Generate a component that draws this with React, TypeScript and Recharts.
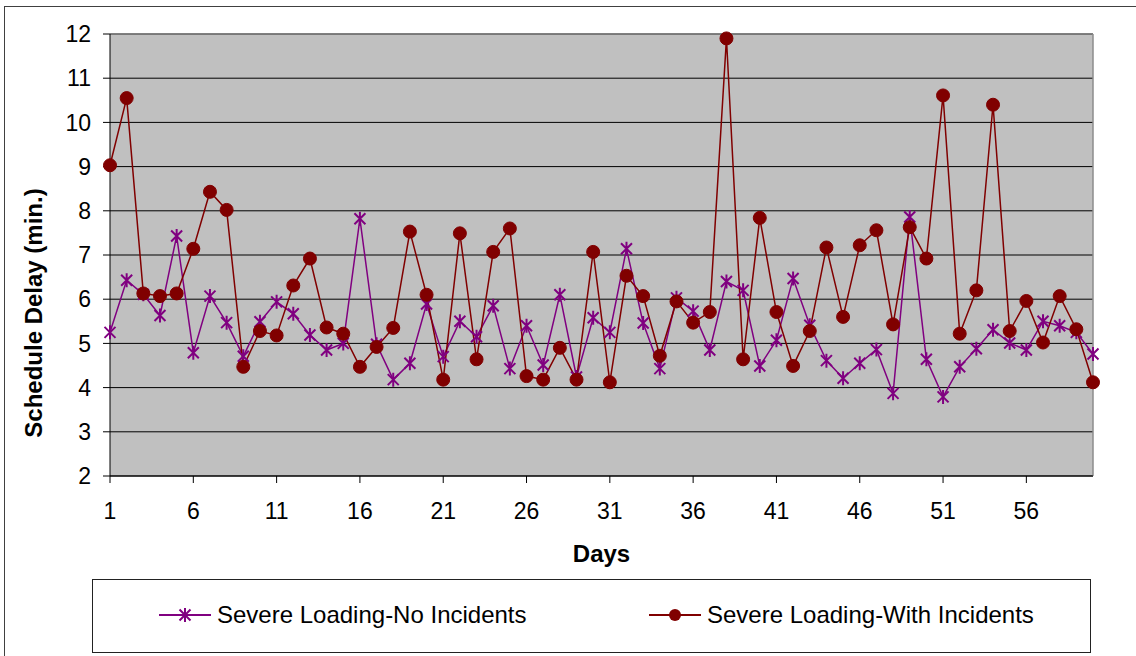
import { CartesianGrid, Line, LineChart, ReferenceLine, XAxis, YAxis } from "recharts";

// schedule delay in minutes per day, severe loading scenario
const noIncidents = [
  5.25, 6.43, 6.11, 5.63, 7.43, 4.79, 6.07, 5.47, 4.71, 5.49,
  5.94, 5.67, 5.19, 4.85, 5.0, 7.82, 4.98, 4.18, 4.55, 5.89,
  4.7, 5.5, 5.15, 5.85, 4.43, 5.4, 4.51, 6.1, 4.24, 5.58,
  5.25, 7.14, 5.46, 4.43, 6.03, 5.73, 4.85, 6.4, 6.2, 4.49,
  5.07, 6.47, 5.41, 4.61, 4.21, 4.55, 4.86, 3.87, 7.86, 4.64,
  3.79, 4.47, 4.88, 5.31, 5.01, 4.85, 5.5, 5.4, 5.25, 4.76,
];

const withIncidents = [
  9.03, 10.55, 6.13, 6.07, 6.13, 7.14, 8.43, 8.02, 4.47, 5.28,
  5.18, 6.31, 6.92, 5.36, 5.22, 4.47, 4.92, 5.35, 7.53, 6.1,
  4.18, 7.49, 4.64, 7.07, 7.6, 4.26, 4.18, 4.9, 4.18, 7.07,
  4.12, 6.53, 6.07, 4.72, 5.95, 5.47, 5.71, 11.9, 4.64, 7.84,
  5.71, 4.49, 5.28, 7.17, 5.6, 7.22, 7.56, 5.43, 7.63, 6.92,
  10.61, 5.22, 6.2, 10.4, 5.28, 5.96, 5.02, 6.07, 5.32, 4.12,
];

const dayTicks = [1, 6, 11, 16, 21, 26, 31, 36, 41, 46, 51, 56];
const delayTicks = [2, 3, 4, 5, 6, 7, 8, 9, 10, 11, 12];

const seriesNames = ["Severe Loading-No Incidents", "Severe Loading-With Incidents"];

const PURPLE = "#800080";
const MAROON = "#800000";
const FONT = "'Liberation Sans', Arial, Helvetica, sans-serif";

const rows = noIncidents.map((value, i) => ({
  day: i + 1,
  noIncidents: value,
  withIncidents: withIncidents[i],
}));

function StarDot(props: any) {
  const { cx, cy, index } = props;
  if (cx == null || cy == null) return null;
  const d = `M${cx - 5.5},${cy - 5.5}L${cx + 5.5},${cy + 5.5}M${cx + 5.5},${cy - 5.5}L${cx - 5.5},${cy + 5.5}M${cx},${cy - 7}L${cx},${cy + 7}`;
  return <path key={`star-${index}`} d={d} stroke={PURPLE} strokeWidth={2} fill="none" />;
}

function RoundDot(props: any) {
  const { cx, cy, index } = props;
  if (cx == null || cy == null) return null;
  return <circle key={`dot-${index}`} cx={cx} cy={cy} r={6.5} fill={MAROON} stroke={MAROON} />;
}

function YTitle(props: any) {
  const vb = props.viewBox || { x: 0, y: 34, width: 110, height: 442 };
  const x = vb.x + 42;
  const y = vb.y + 279;
  return (
    <text
      x={x}
      y={y}
      transform={`rotate(-90, ${x}, ${y})`}
      textAnchor="middle"
      fontFamily={FONT}
      fontSize={24}
      fontWeight="bold"
      fill="#000"
    >
      Schedule Delay (min.)
    </text>
  );
}

function LegendIcon({ kind }: { kind: "star" | "circle" }) {
  return (
    <svg width={52} height={16} style={{ display: "block" }}>
      <line x1={0} y1={8} x2={52} y2={8} stroke={kind === "star" ? PURPLE : MAROON} strokeWidth={2} />
      {kind === "star" ? (
        <path d="M20.5,2.5L31.5,13.5M31.5,2.5L20.5,13.5M26,1L26,15" stroke={PURPLE} strokeWidth={2} fill="none" />
      ) : (
        <circle cx={26} cy={8} r={6} fill={MAROON} />
      )}
    </svg>
  );
}

export default function App() {
  return (
    <div
      style={{
        position: "absolute",
        left: 0,
        top: 0,
        width: 1136,
        height: 656,
        overflow: "hidden",
        background: "#fff",
        fontFamily: FONT,
      }}
    >
      <div
        style={{
          position: "absolute",
          left: 4,
          top: 6,
          width: 1200,
          height: 700,
          border: "1px solid #404040",
        }}
      />
      <div style={{ position: "absolute", left: 0, top: 0 }}>
        <LineChart width={1136} height={656} data={rows} margin={{ top: 34, right: 43, bottom: 140, left: 0 }}>
          <CartesianGrid vertical={false} stroke="#000" fill="#C0C0C0" fillOpacity={1} />
          <XAxis
            dataKey="day"
            type="number"
            domain={[1, 60]}
            ticks={dayTicks}
            interval={0}
            height={40}
            tickSize={7}
            tickMargin={20}
            axisLine={{ stroke: "#000" }}
            tickLine={{ stroke: "#000" }}
            tick={{ fill: "#000", fontSize: 23, fontFamily: FONT }}
            label={{
              value: "Days",
              position: "bottom",
              offset: 29,
              fill: "#000",
              fontSize: 24,
              fontWeight: "bold",
              fontFamily: FONT,
            }}
          />
          <YAxis
            type="number"
            domain={[2, 12]}
            ticks={delayTicks}
            interval={0}
            width={110}
            tickSize={7}
            tickMargin={12}
            axisLine={{ stroke: "#000" }}
            tickLine={{ stroke: "#000" }}
            tick={{ fill: "#000", fontSize: 23, fontFamily: FONT }}
            label={<YTitle />}
          />
          <ReferenceLine y={12} stroke="#808080" strokeWidth={1.5} />
          <ReferenceLine x={60} stroke="#8c8c8c" strokeWidth={1.5} />
          <Line
            dataKey="noIncidents"
            name={seriesNames[0]}
            stroke={PURPLE}
            strokeWidth={1.5}
            dot={StarDot}
            activeDot={false}
            isAnimationActive={false}
          />
          <Line
            dataKey="withIncidents"
            name={seriesNames[1]}
            stroke={MAROON}
            strokeWidth={1.5}
            dot={RoundDot}
            activeDot={false}
            isAnimationActive={false}
          />
        </LineChart>
      </div>
      <div
        style={{
          position: "absolute",
          left: 92,
          top: 579,
          width: 997,
          height: 72,
          border: "1px solid #222",
          background: "#fff",
        }}
      />
      {[0, 1].map((i) => (
        <div
          key={seriesNames[i]}
          style={{
            position: "absolute",
            left: i === 0 ? 159 : 649,
            top: 600,
            height: 30,
            display: "flex",
            alignItems: "center",
            gap: 6,
            fontSize: 24,
            color: "#000",
            whiteSpace: "nowrap",
          }}
        >
          <LegendIcon kind={i === 0 ? "star" : "circle"} />
          <span>{seriesNames[i]}</span>
        </div>
      ))}
    </div>
  );
}
